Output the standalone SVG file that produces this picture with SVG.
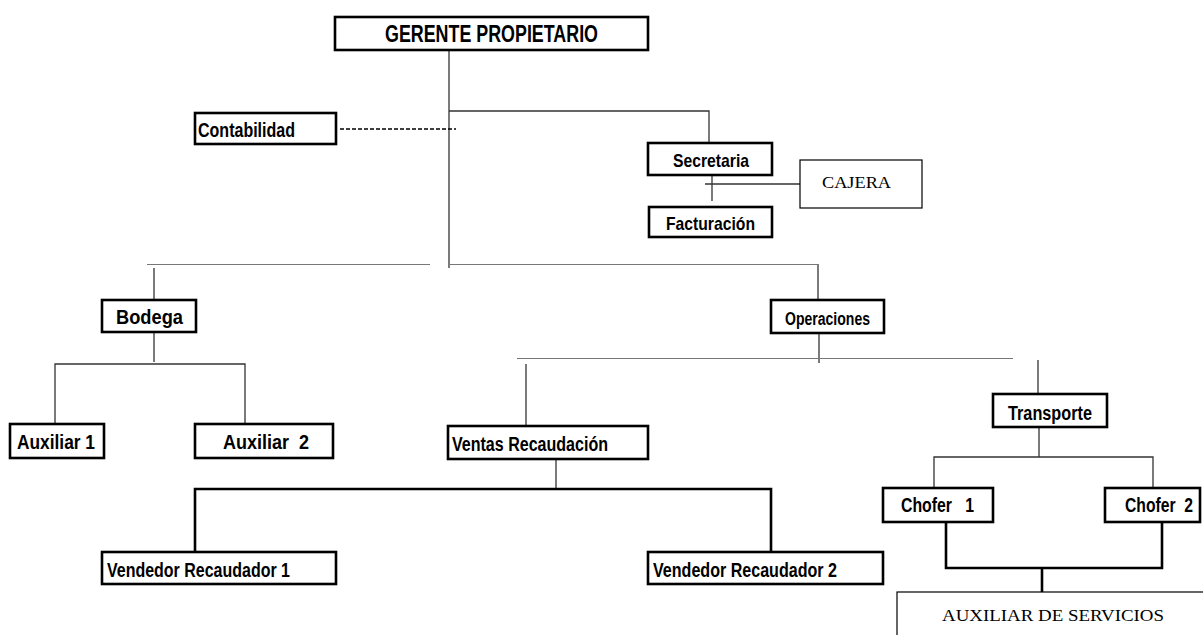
<svg xmlns="http://www.w3.org/2000/svg" width="1203" height="635" viewBox="0 0 1203 635">
<style>
.box{fill:#fff;stroke:#000;stroke-width:2.6}
.tbox{fill:#fff;stroke:#000;stroke-width:1.2}
.lbl{font-family:"Liberation Sans Narrow","Liberation Sans",Arial,sans-serif;font-weight:bold;fill:#000}
.ser{font-family:"Liberation Serif","Times New Roman",serif;fill:#000}
.ln{stroke:#333;stroke-width:1.3;fill:none}
.lg{stroke:#777;stroke-width:1.2;fill:none}
.lk{stroke:#000;stroke-width:2.6;fill:none}
.dash{stroke:#000;stroke-width:1.5;stroke-dasharray:4 2;fill:none}
</style>
<rect width="1203" height="635" fill="#fff"/>
<g id="connectors">
  <line class="ln" x1="449" y1="50" x2="449" y2="268"/>
  <polyline class="ln" points="449,111 709,111 709,143"/>
  <line class="dash" x1="340" y1="129" x2="456" y2="129"/>
  <line class="ln" x1="712" y1="175" x2="712" y2="201"/>
  <line class="ln" x1="705" y1="184" x2="800" y2="184"/>
  <line class="lg" x1="147" y1="264.5" x2="430" y2="264.5"/>
  <line class="lg" x1="450" y1="264.5" x2="817" y2="264.5"/>
  <line class="ln" x1="818" y1="264" x2="818" y2="300"/>
  <line class="ln" x1="154" y1="268" x2="154" y2="300"/>
  <line class="ln" x1="154" y1="332" x2="154" y2="362"/>
  <polyline class="ln" points="55,424 55,364 245,364 245,424"/>
  <line class="ln" x1="819" y1="333" x2="819" y2="363"/>
  <line class="lg" x1="517" y1="358.5" x2="1013" y2="358.5"/>
  <line class="ln" x1="526" y1="364" x2="526" y2="426"/>
  <line class="ln" x1="1038" y1="360" x2="1038" y2="394"/>
  <line class="ln" x1="556" y1="459" x2="556" y2="488"/>
  <polyline class="lk" points="195,552 195,489 771,489 771,552"/>
  <line class="ln" x1="1039" y1="427" x2="1039" y2="457"/>
  <polyline class="ln" points="934,488 934,457 1153,457 1153,488"/>
  <polyline class="lk" points="946,522 946,568 1162,568 1162,522"/>
  <line class="lk" x1="1042" y1="568" x2="1042" y2="592"/>
</g>
<g id="gerente">
  <rect class="box" x="335" y="17" width="313" height="33"/>
  <text class="lbl" x="385" y="41.5" font-size="23" textLength="213" lengthAdjust="spacingAndGlyphs">GERENTE PROPIETARIO</text>
</g>
<g id="contabilidad">
  <rect class="box" x="195" y="113" width="141" height="31"/>
  <text class="lbl" x="198" y="137" font-size="20" textLength="97" lengthAdjust="spacingAndGlyphs">Contabilidad</text>
</g>
<g id="secretaria">
  <rect class="box" x="648" y="143" width="124" height="32"/>
  <text class="lbl" x="673" y="167" font-size="19" textLength="76" lengthAdjust="spacingAndGlyphs">Secretaria</text>
</g>
<g id="cajera">
  <rect class="tbox" x="800" y="160" width="122" height="48"/>
  <text class="ser" x="822" y="188" font-size="16" textLength="69" lengthAdjust="spacingAndGlyphs">CAJERA</text>
</g>
<g id="facturacion">
  <rect class="box" x="649" y="207" width="123" height="30"/>
  <text class="lbl" x="666" y="230" font-size="19" textLength="89" lengthAdjust="spacingAndGlyphs">Facturación</text>
</g>
<g id="bodega">
  <rect class="box" x="102" y="300" width="94" height="32"/>
  <text class="lbl" x="116" y="324" font-size="20" textLength="67" lengthAdjust="spacingAndGlyphs">Bodega</text>
</g>
<g id="operaciones">
  <rect class="box" x="771" y="300" width="113" height="33"/>
  <text class="lbl" x="785" y="325" font-size="18" textLength="85" lengthAdjust="spacingAndGlyphs">Operaciones</text>
</g>
<g id="auxiliar1">
  <rect class="box" x="10" y="424" width="94" height="34"/>
  <text class="lbl" x="17" y="448.5" font-size="20" textLength="78" lengthAdjust="spacingAndGlyphs">Auxiliar 1</text>
</g>
<g id="auxiliar2">
  <rect class="box" x="195" y="424" width="138" height="34"/>
  <text class="lbl" x="223" y="448.5" font-size="20" textLength="86" lengthAdjust="spacingAndGlyphs" xml:space="preserve">Auxiliar  2</text>
</g>
<g id="ventas">
  <rect class="box" x="448" y="426" width="200" height="33"/>
  <text class="lbl" x="452" y="451" font-size="20" textLength="156" lengthAdjust="spacingAndGlyphs">Ventas Recaudación</text>
</g>
<g id="transporte">
  <rect class="box" x="993" y="394" width="114" height="33"/>
  <text class="lbl" x="1008" y="420" font-size="20" textLength="84" lengthAdjust="spacingAndGlyphs">Transporte</text>
</g>
<g id="chofer1">
  <rect class="box" x="883" y="488" width="110" height="34"/>
  <text class="lbl" x="901" y="512" font-size="20" textLength="73" lengthAdjust="spacingAndGlyphs" xml:space="preserve">Chofer   1</text>
</g>
<g id="chofer2">
  <rect class="box" x="1105" y="488" width="95" height="34"/>
  <text class="lbl" x="1125" y="512" font-size="20" textLength="68" lengthAdjust="spacingAndGlyphs" xml:space="preserve">Chofer  2</text>
</g>
<g id="vendedor1">
  <rect class="box" x="102" y="552" width="234" height="32"/>
  <text class="lbl" x="107" y="577" font-size="20" textLength="183" lengthAdjust="spacingAndGlyphs">Vendedor Recaudador 1</text>
</g>
<g id="vendedor2">
  <rect class="box" x="648" y="552" width="235" height="32"/>
  <text class="lbl" x="653" y="577" font-size="20" textLength="184" lengthAdjust="spacingAndGlyphs">Vendedor Recaudador 2</text>
</g>
<g id="auxiliar-servicios">
  <rect class="tbox" x="897" y="592" width="330" height="60"/>
  <text class="ser" x="942" y="621" font-size="16" textLength="222" lengthAdjust="spacingAndGlyphs">AUXILIAR DE SERVICIOS</text>
</g>
</svg>
